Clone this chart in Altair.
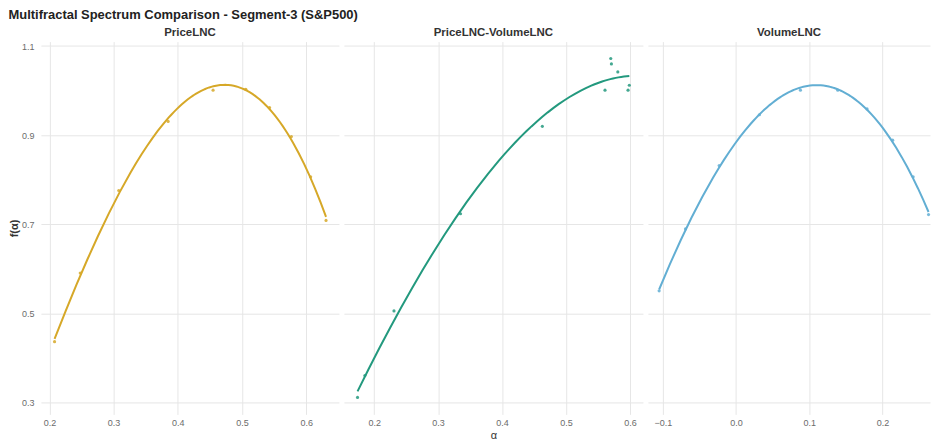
import altair as alt
import pandas as pd

# ---- data ----
price_alpha = [0.208, 0.248, 0.308, 0.385, 0.455, 0.506, 0.543, 0.577, 0.607, 0.631]
price_f = [0.437, 0.591, 0.776, 0.931, 1.001, 1.003, 0.962, 0.897, 0.807, 0.709]

cross_alpha = [0.174, 0.1855, 0.231, 0.335, 0.463, 0.561, 0.570, 0.571, 0.581, 0.597, 0.599]
cross_f = [0.312, 0.361, 0.506, 0.724, 0.920, 1.001, 1.072, 1.060, 1.042, 1.001, 1.012]

volume_alpha = [-0.105, -0.069, -0.023, 0.032, 0.088, 0.139, 0.179, 0.214, 0.242, 0.263]
volume_f = [0.551, 0.690, 0.832, 0.946, 1.001, 1.001, 0.959, 0.889, 0.807, 0.722]

panel_names = ["PriceLNC", "PriceLNC-VolumeLNC", "VolumeLNC"]
panel_colors = ["#D6A828", "#23997E", "#62AED3"]
y_ticks = [0.3, 0.5, 0.7, 0.9, 1.1]
x_ticks_12 = [0.2, 0.3, 0.4, 0.5, 0.6]
x_ticks_3 = [-0.1, 0.0, 0.1, 0.2]

Y_DOMAIN = [0.274, 1.11]
FONT = "Liberation Sans"


def panel(alpha, f, color, name, xdomain, xticks, show_y, show_xtitle, width):
    df = pd.DataFrame({"alpha": alpha, "f": f})
    base = alt.Chart(df)
    xkw = dict(values=xticks, format=".1f", grid=True, ticks=False, domain=False,
               labelPadding=4)
    if show_xtitle:
        xkw["title"] = "α"
    else:
        xkw["title"] = ""
    ykw = dict(values=y_ticks, format=".1f", grid=True, ticks=False, domain=False)
    if show_y:
        ykw.update(title="f(α)", labelPadding=7, titleFontWeight="bold")
    else:
        ykw.update(title="", labels=False)
    x = alt.X("alpha:Q", scale=alt.Scale(domain=xdomain, nice=False, zero=False),
              axis=alt.Axis(**xkw))
    y = alt.Y("f:Q", scale=alt.Scale(domain=Y_DOMAIN, nice=False, zero=False),
              axis=alt.Axis(**ykw))
    pts = base.mark_circle(size=10, color=color, opacity=0.85).encode(x=x, y=y)
    line = (base.transform_regression("alpha", "f", method="poly", order=3)
            .mark_line(color=color, strokeWidth=2).encode(x=x, y=y))
    return alt.layer(pts, line).properties(
        width=width, height=374,
        title=alt.TitleParams(name, fontSize=11.5, fontWeight="bold", font=FONT,
                              color="#333333", anchor="middle", offset=3))


p1 = panel(price_alpha, price_f, panel_colors[0], panel_names[0],
           [0.1867, 0.6511], x_ticks_12, True, False, 299)
p2 = panel(cross_alpha, cross_f, panel_colors[1], panel_names[1],
           [0.1527, 0.6203], x_ticks_12, False, True, 300)
p3 = panel(volume_alpha, volume_f, panel_colors[2], panel_names[2],
           [-0.1203, 0.2650], x_ticks_3, False, False, 283)

chart = (
    alt.hconcat(p1, p2, p3, spacing=5)
    .properties(
        title=alt.TitleParams("Multifractal Spectrum Comparison - Segment-3 (S&P500)",
                              anchor="start", frame="bounds", fontSize=13,
                              fontWeight="bold", font=FONT, color="#222222", offset=5),
        padding={"left": 0, "top": 0, "right": 0, "bottom": 0},
    )
    .configure_view(stroke=None)
    .configure_axis(gridColor="#e6e6e6", gridWidth=1, labelColor="#6b6b6b",
                    labelFont=FONT, labelFontSize=9, titleFont=FONT, titleFontSize=11,
                    titleColor="#333333", titleFontWeight="normal", titlePadding=2)
)

chart.save("out.html", embed_options={"renderer": "svg", "actions": False})
